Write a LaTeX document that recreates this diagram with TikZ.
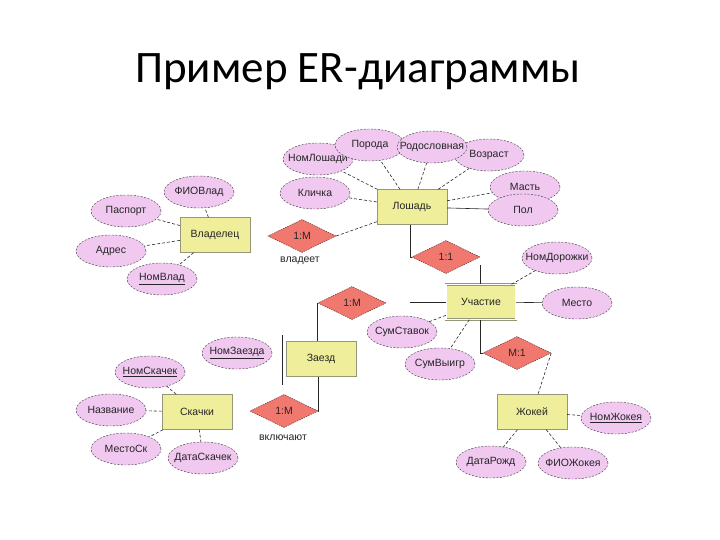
\documentclass[tikz,border=0pt]{standalone}
\usepackage{fontspec}
\setmainfont{Liberation Sans}
\newfontfamily\titlefont{Carlito}
\usetikzlibrary{shapes.geometric}
\definecolor{entfill}{RGB}{238,238,155}
\definecolor{entdraw}{RGB}{150,150,120}
\definecolor{attfill}{RGB}{240,200,240}
\definecolor{reldraw}{RGB}{90,40,40}
\definecolor{relfill}{RGB}{240,120,110}
\definecolor{ln}{RGB}{40,40,40}
\begin{document}
\begin{tikzpicture}[x=1pt,y=-1pt,
  txt/.style={font=\fontsize{10.5}{12}\selectfont, text=black!85},
  ent/.style={txt, draw=entdraw, fill=entfill, minimum width=70pt, minimum height=35pt, inner sep=0pt},
  att/.style={txt, ellipse, draw=black!80, dash pattern=on 2pt off 1.5pt, fill=attfill, minimum width=70pt, minimum height=32pt, inner sep=0pt},
  rel/.style={txt, diamond, draw=reldraw, dash pattern=on 1.5pt off 1pt, fill=relfill, minimum width=68pt, minimum height=33pt, inner sep=0pt},
  con/.style={draw=ln, line width=0.6pt},
  acon/.style={con, dash pattern=on 3pt off 2pt}]
\useasboundingbox (0,0) rectangle (720,540);
\fill[white] (0,0) rectangle (720,540);

\node[anchor=base, font=\titlefont\fontsize{45}{54}\selectfont] (title) at (358,83) {Пример ER-диаграммы};

% entities
\node[ent] (L) at (412,207) {Лошадь};
\node[ent] (V) at (215,235) {Владелец};
\node[ent, double, double distance=1.5pt] (U) at (481,302) {Участие};
\node[ent] (Z) at (321,359) {Заезд};
\node[ent] (S) at (197,412) {Скачки};
\node[ent] (J) at (532,412) {Жокей};

% relationships
\node[rel] (r1) at (302,236) {\makebox[0pt]{1:M}};
\node[rel] (r2) at (446,257) {\makebox[0pt]{1:1}};
\node[rel] (r3) at (352,303) {\makebox[0pt]{1:M}};
\node[rel] (r4) at (517,353) {\makebox[0pt]{M:1}};
\node[rel] (r5) at (284,411) {\makebox[0pt]{1:M}};
\node[txt] (lab1) at (300,261) {владеет};
\node[txt] (lab5) at (283,438) {включают};

% relationship connectors
\draw[acon] (r1.east) -- ([yshift=3pt]L.south west);
\draw[con] ([xshift=-2pt]L.south) |- (r2.west);
\draw[con] ([yshift=-8pt]r2.east) -- (U.north -| r2.east);
\coordinate (c3) at (410,302);
\draw[con] (U.west) -- (c3);
\draw[con] (r3.west) -| ([xshift=-4pt]Z.north);
\draw[con] ([xshift=-1pt]U.south) |- (r4.west);
\draw[acon] (r4.east) -- ([xshift=6pt]J.north);
\draw[con] ([xshift=-3pt]Z.south) |- (r5.east);
\draw[con, line width=1pt] ([shift={(-3pt,6pt)}]Z.north west) -- ([shift={(-3pt,-8pt)}]Z.south west);

% attributes of Лошадь
\node[att] (a1) at (318,159) {\makebox[0pt]{НомЛошади}};
\node[att] (a7) at (315,193) {\makebox[0pt]{Кличка}};
\node[att] (a2) at (370,145) {\makebox[0pt]{Порода}};
\node[att] (a4) at (489,155) {\makebox[0pt]{Возраст}};
\node[att] (a3) at (432,147) {\makebox[0pt]{Родословная}};
\node[att] (a5) at (525,187) {\makebox[0pt]{Масть}};
\node[att] (a6) at (523,210) {\makebox[0pt]{Пол}};
% Владелец
\node[att] (b1) at (199,192) {\makebox[0pt]{ФИОВлад}};
\node[att] (b2) at (126,211) {\makebox[0pt]{Паспорт}};
\node[att] (b3) at (111,251) {\makebox[0pt]{Адрес}};
\node[att] (b4) at (162,279) {\makebox[0pt]{\underline{НомВлад}}};
% Участие
\node[att] (c1) at (557,258) {\makebox[0pt]{НомДорожки}};
\node[att] (c2) at (577,303) {\makebox[0pt]{Место}};
\node[att] (c4) at (440,364) {\makebox[0pt]{СумВыигр}};
\node[att] (c3a) at (402,332) {\makebox[0pt]{СумСтавок}};
% Заезд
\node[att] (d1) at (237,353) {\makebox[0pt]{\underline{НомЗаезда}}};
% Скачки
\node[att] (e1) at (150,372) {\makebox[0pt]{\underline{НомСкачек}}};
\node[att] (e2) at (111,410) {\makebox[0pt]{Название}};
\node[att] (e3) at (126,449) {\makebox[0pt]{МестоСк}};
\node[att] (e4) at (203,458) {\makebox[0pt]{ДатаСкачек}};
% Жокей
\node[att] (f1) at (616,418) {\makebox[0pt]{\underline{НомЖокея}}};
\node[att] (f2) at (491,462) {\makebox[0pt]{ДатаРожд}};
\node[att] (f3) at (573,463) {\makebox[0pt]{ФИОЖокея}};

% attribute connectors
\foreach \a in {a1,a2,a3,a4,a5,a7} \draw[acon] (L) -- (\a);
\draw[con] (L) -- (a6);
\foreach \a in {b1,b2,b3,b4} \draw[acon] (V) -- (\a);
\draw[acon] (U) -- (c1);
\draw[con] (U) -- (c2);
\draw[acon] (U) -- (c3a);
\draw[acon] (U) -- (c4);
\foreach \a in {e1,e2,e3,e4} \draw[acon] (S) -- (\a);
\foreach \a in {f1,f2,f3} \draw[acon] (J) -- (\a);
\end{tikzpicture}
\end{document}
